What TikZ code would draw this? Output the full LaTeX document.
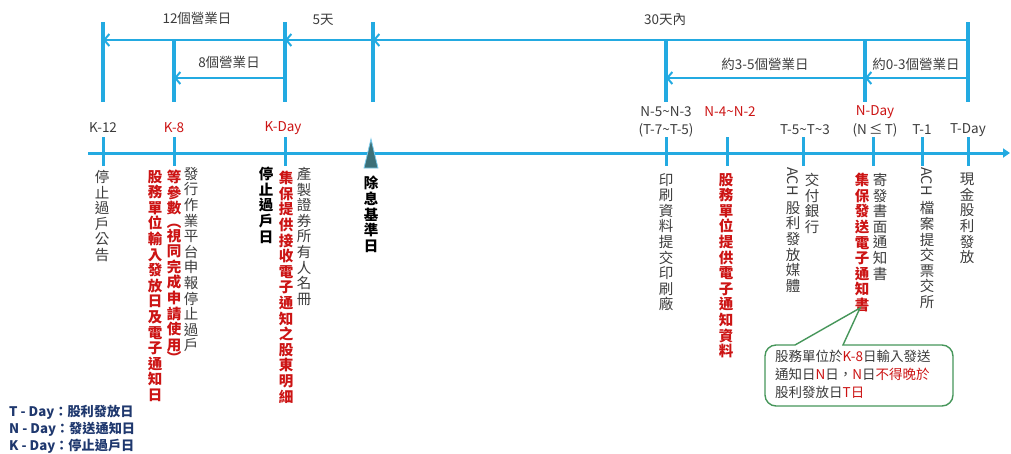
\documentclass[tikz,border=0pt]{standalone}
\usepackage{fontspec}
\setmainfont{Noto Sans CJK TC}
\usetikzlibrary{arrows.meta}
\definecolor{tlblue}{RGB}{35,170,225}
\definecolor{txtgray}{RGB}{60,60,60}
\definecolor{tlred}{RGB}{204,20,20}
\definecolor{cgreen}{RGB}{70,150,90}
\definecolor{navy}{RGB}{31,56,110}
\definecolor{trifill}{RGB}{60,112,120}
\newcommand{\tld}{\textasciitilde}
\begin{document}
\begin{tikzpicture}[x=1pt,y=-1pt,
  bl/.style={draw=tlblue, line width=3.2pt},
  tick/.style={draw=tlblue, line width=3pt},
  harr/.style={draw=tlblue, line width=2.4pt, -{Straight Barb[length=5pt,width=12pt,line width=2pt]}},
  lab/.style={font=\fontsize{13.5}{15}\selectfont, text=txtgray, inner sep=0pt},
  labr/.style={lab, text=tlred},
  vt/.style={anchor=north, align=center, inner sep=0pt, font=\fontsize{14.5}{15.6}\selectfont, text=txtgray},
  vtr/.style={vt, text=tlred, font=\bfseries\fontsize{14.5}{15.6}\selectfont},
  vtb/.style={vt, text=black, font=\bfseries\fontsize{14.5}{15.6}\selectfont},
  leg/.style={anchor=west, inner sep=0pt, text=navy, font=\bfseries\fontsize{13.2}{15}\selectfont}]
\useasboundingbox (0,0) rectangle (1011,453);

% ---------- top brackets ----------
\coordinate (k12t) at (103,22);  \coordinate (k12b) at (103,102);
\coordinate (k8t)  at (174,40);  \coordinate (k8b)  at (174,102);
\coordinate (kdt)  at (285,22);  \coordinate (kdb)  at (285,102);
\coordinate (ext)  at (373,22);  \coordinate (exb)  at (373,102);
\coordinate (n5t)  at (666,40);  \coordinate (n5b)  at (666,102);
\coordinate (ndt)  at (865,40);  \coordinate (ndb)  at (865,102);
\coordinate (tdt)  at (968,22);  \coordinate (tdb)  at (968,102);
\foreach \a/\b in {k12t/k12b,k8t/k8b,kdt/kdb,ext/exb,n5t/n5b,ndt/ndb,tdt/tdb}
  \draw[bl] (\a) -- (\b);

\coordinate (r1k12) at (103,40); \coordinate (r1kd) at (285,40);
\coordinate (r1ex) at (373,40);  \coordinate (r1td) at (968,40);
\coordinate (r2k8) at (174,78);  \coordinate (r2kd) at (285,78);
\coordinate (r2n5) at (666,78);  \coordinate (r2nd) at (865,78);
\coordinate (r2td) at (968,78);
\draw[harr] (r1kd) -- (r1k12);
\draw[harr] (r1ex) -- (r1kd);
\draw[harr] (r1td) -- (r1ex);
\draw[harr] (r2kd) -- (r2k8);
\draw[harr] (r2nd) -- (r2n5);
\draw[harr] (r2td) -- (r2nd);

\node[lab] (l12) at (197,18) {12個營業日};
\node[lab] (l5)  at (323,20) {5天};
\node[lab] (l30) at (665,20) {30天內};
\node[lab] (l8)  at (229,62) {8個營業日};
\node[lab] (l35) at (765,64) {約3-5個營業日};
\node[lab] (l03) at (916,64) {約0-3個營業日};

% ---------- timeline ----------
\coordinate (axs) at (88,153); \coordinate (axe) at (1010,153);
\draw[bl, line width=3pt, -{Triangle[length=7pt,width=9pt]}] (axs) -- (axe);
\foreach \x in {103,174,285,666,727,803,873,922,968}
  \draw[tick] (\x,137) -- (\x,166);
\filldraw[fill=trifill, draw=tlblue!60, line width=0.8pt] (364,168) -- (371,139) -- (378,168) -- cycle;

% labels above timeline
\node[lab] (tk12) at (103,128) {K-12};
\node[labr] (tk8) at (174,128) {K-8};
\node[labr] (tkd) at (283,128) {K-Day};
\node[lab] (tn5) at (666,112) {N-5\tld N-3};
\node[lab] (tt7) at (666,130) {(T-7\tld T-5)};
\node[labr] (tn4) at (730,112) {N-4\tld N-2};
\node[lab] (tt5) at (805,130) {T-5\tld T\tld 3};
\node[labr] (tnd) at (875,112) {N-Day};
\node[lab] (tnt) at (875,130) {(N\,≤\,T)};
\node[lab] (tt1) at (922,130) {T-1};
\node[lab] (ttd) at (968,130) {T-Day};

% ---------- vertical texts ----------
\node[vt]  (c1) at (102,170) {停\\止\\過\\戶\\公\\告};
\node[vtr] (c2) at (155,170) {股\\務\\單\\位\\輸\\入\\發\\放\\日\\及\\電\\子\\通\\知\\日};
\node[vtr] (c3) at (174,170) {等\\參\\數\\[-2pt]︵\\[-2pt]視\\同\\完\\成\\申\\請\\使\\用\\[-2pt]︶};
\node[vt]  (c4) at (191,167) {發\\行\\作\\業\\平\\台\\申\\報\\停\\止\\過\\戶};
\node[vtb] (c5) at (266,167) {停\\止\\過\\戶\\日};
\node[vtr] (c6) at (286,171) {集\\保\\提\\供\\接\\收\\電\\子\\通\\知\\之\\股\\東\\明\\細};
\node[vt]  (c7) at (304,167) {產\\製\\證\\券\\所\\有\\人\\名\\冊};
\node[vtb] (c8) at (371,176) {除\\息\\基\\準\\日};
\node[vt]  (c9) at (666,173) {印\\刷\\資\\料\\提\\交\\印\\刷\\廠};
\node[vtr] (c10) at (726,173) {股\\務\\單\\位\\提\\供\\電\\子\\通\\知\\資\\料};
\node[vt]  (c11) at (793,167) {\rotatebox{-90}{ACH}\\[5pt]股\\利\\發\\放\\媒\\體};
\node[vt]  (c12) at (812,173) {交\\付\\銀\\行};
\node[vtr] (c13) at (862,173) {集\\保\\發\\送\\電\\子\\通\\知\\書};
\node[vt]  (c14) at (880,173) {寄\\發\\書\\面\\通\\知\\書};
\node[vt]  (c15) at (927,167) {\rotatebox{-90}{ACH}\\[5pt]檔\\案\\提\\交\\票\\交\\所};
\node[vt]  (c16) at (967,173) {現\\金\\股\\利\\發\\放};

% ---------- callout ----------
\coordinate (ptip) at (860,308);
\draw[cgreen, line width=1.4pt, fill=white]
  (843,345) [rounded corners=11pt] -- (953,345) -- (953,406) -- (765,406) -- (765,345) [sharp corners] -- (795,345) -- (ptip) -- cycle;
\node[anchor=north west, align=left, inner sep=0pt, text=txtgray,
      font=\fontsize{13.5}{18}\selectfont] (note) at (775,350)
  {股務單位於{\color{tlred}K-8}日輸入發送\\
   通知日{\color{tlred}N}日，{\color{tlred}N}日{\color{tlred}不得晚於}\\
   股利發放日{\color{tlred}T日}};

% ---------- legend ----------
\node[leg] (g1) at (9,412) {T - Day：股利發放日};
\node[leg] (g2) at (9,429) {N - Day：發送通知日};
\node[leg] (g3) at (9,446) {K - Day：停止過戶日};
\end{tikzpicture}
\end{document}
